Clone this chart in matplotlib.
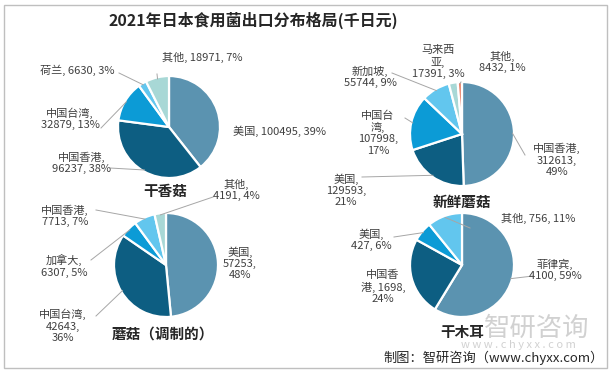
import numpy as np
import matplotlib.pyplot as plt
from matplotlib.patches import Rectangle

plt.rcParams['font.family'] = ['Noto Sans CJK SC', 'DejaVu Sans']

# Data
title = '2021年日本食用菌出口分布格局(千日元)'

p1_name = '干香菇'
p1_labels = ['美国', '中国香港', '中国台湾', '荷兰', '其他']
p1_values = [100495, 96237, 32879, 6630, 18971]

p2_name = '新鲜蘑菇'
p2_labels = ['中国香港', '美国', '中国台湾', '新加坡', '马来西亚', '其他']
p2_values = [312613, 129593, 107998, 55744, 17391, 8432]

p3_name = '蘑菇（调制的）'
p3_labels = ['美国', '中国台湾', '加拿大', '中国香港', '其他']
p3_values = [57253, 42643, 6307, 7713, 4191]

p4_name = '干木耳'
p4_labels = ['菲律宾', '中国香港', '美国', '其他']
p4_values = [4100, 1698, 427, 756]

# Colours
STEEL = '#5b93b0'
DARK = '#0d5e82'
BRIGHT = '#0c9bd6'
LIGHT = '#62c6ee'
PALE = '#a8d8d6'
SALMON = '#e8836a'
TXT = '#404040'
LINE = '#a6a6a6'

p1_colors = [STEEL, DARK, BRIGHT, LIGHT, PALE]
p2_colors = [STEEL, DARK, BRIGHT, LIGHT, PALE, SALMON]
p3_colors = [STEEL, DARK, BRIGHT, LIGHT, PALE]
p4_colors = [STEEL, DARK, BRIGHT, LIGHT]

W, H = 615, 376
fig = plt.figure(figsize=(W / 100, H / 100), dpi=100)
ax = fig.add_axes([0, 0, 1, 1])


def Y(y):
    # pixel row (from top) -> data y
    return H - y


def label_text(name, value, pct, wrap):
    s = f'{name}, {value}, {pct}%'
    if wrap is None:
        return s
    return wrap.format(name=name, v=value, p=pct)


def draw_pie(cx, cy, r, values, labels, colors, name, name_pos, layout):
    vals = np.array(values, dtype=float)
    wedges, _ = ax.pie(vals, colors=colors, startangle=90, counterclock=False,
                       center=(cx, Y(cy)), radius=r, frame=True,
                       wedgeprops=dict(edgecolor='white', linewidth=1.6))
    pct = np.round(vals / vals.sum() * 100).astype(int)
    for i, w in enumerate(wedges):
        tx, ty, ha, wrap, lead = layout[i]
        txt = label_text(labels[i], values[i], pct[i], wrap)
        ax.text(tx, Y(ty), txt, ha=ha, va='center', fontsize=8,
                color=TXT, linespacing=1.15)
        if lead is not None:
            ang = np.deg2rad((w.theta1 + w.theta2) / 2)
            ex = cx + r * 0.97 * np.cos(ang)
            ey = Y(cy) + r * 0.97 * np.sin(ang)
            lx, ly = lead
            ax.plot([lx, ex], [Y(ly), ey], color=LINE, lw=0.7)
    ax.text(name_pos[0], Y(name_pos[1]), name, ha='center', va='center',
            fontsize=10.5, fontweight='bold', color='#262626')


# 干香菇
draw_pie(169, 127, 51, p1_values, p1_labels, p1_colors, p1_name, (165, 191), [
    (233, 131, 'left', None, None),
    (82, 163, 'center', '{name},\n{v}, {p}%', (110, 168)),
    (70, 119, 'center', '{name},\n{v}, {p}%', (101, 128)),
    (40, 70, 'left', None, (119, 73)),
    (162, 57, 'left', None, (157, 74)),
])

# 新鲜蘑菇
draw_pie(462, 134, 52, p2_values, p2_labels, p2_colors, p2_name, (462, 202), [
    (557, 160, 'center', '{name},\n{v},\n{p}%', (525, 155)),
    (346, 190, 'center', '{name},\n{v},\n{p}%', (362, 177)),
    (378, 133, 'center', '中国台\n湾,\n{v},\n{p}%', (405, 118)),
    (370, 77, 'center', '{name},\n{v}, {p}%', (392, 73)),
    (438, 62, 'center', '马来西\n亚,\n{v}, {p}%', None),
    (502, 62, 'center', '{name},\n{v}, {p}%', (461, 82)),
])

# 蘑菇（调制的）
draw_pie(166, 265, 52, p3_values, p3_labels, p3_colors, p3_name, (163, 334), [
    (240, 263, 'center', '{name},\n{v},\n{p}%', None),
    (63, 326, 'center', '{name},\n{v},\n{p}%', (96, 316)),
    (64, 266, 'center', '{name},\n{v}, {p}%', (91, 260)),
    (65, 216, 'center', '{name},\n{v}, {p}%', (96, 210)),
    (236, 190, 'center', '{name},\n{v}, {p}%', (213, 197)),
])

# 干木耳
draw_pie(462, 265, 52, p4_values, p4_labels, p4_colors, p4_name, (462, 332), [
    (555, 270, 'center', '{name},\n{v}, {p}%', (533, 276)),
    (383, 287, 'center', '中国香\n港, {v},\n{p}%', None),
    (371, 240, 'center', '{name},\n{v}, {p}%', (394, 237)),
    (501, 218, 'left', None, (470, 228)),
])

# title, border, watermark, source
ax.text(253, Y(20), title, ha='center', va='center', fontsize=11.5,
        fontweight='bold', color='#262626')
ax.add_patch(Rectangle((4, Y(368)), 603, 363, fill=False,
                       edgecolor='#bfbfbf', lw=1))
ax.text(537, Y(328), '智研咨询', ha='center', va='center', fontsize=19,
        color='#9a9a9a', alpha=0.45)
ax.text(518, Y(345), 'w w w . c h y x x . c o m', ha='center', va='center',
        fontsize=8, color='#9a9a9a', alpha=0.45)
ax.text(604, Y(358), '制图：智研咨询（www.chyxx.com）', ha='right',
        va='center', fontsize=9.5, color='#262626')

ax.set_xlim(0, W)
ax.set_ylim(0, H)
ax.set_aspect('equal')
ax.axis('off')

fig.savefig('out.png', dpi=100)
